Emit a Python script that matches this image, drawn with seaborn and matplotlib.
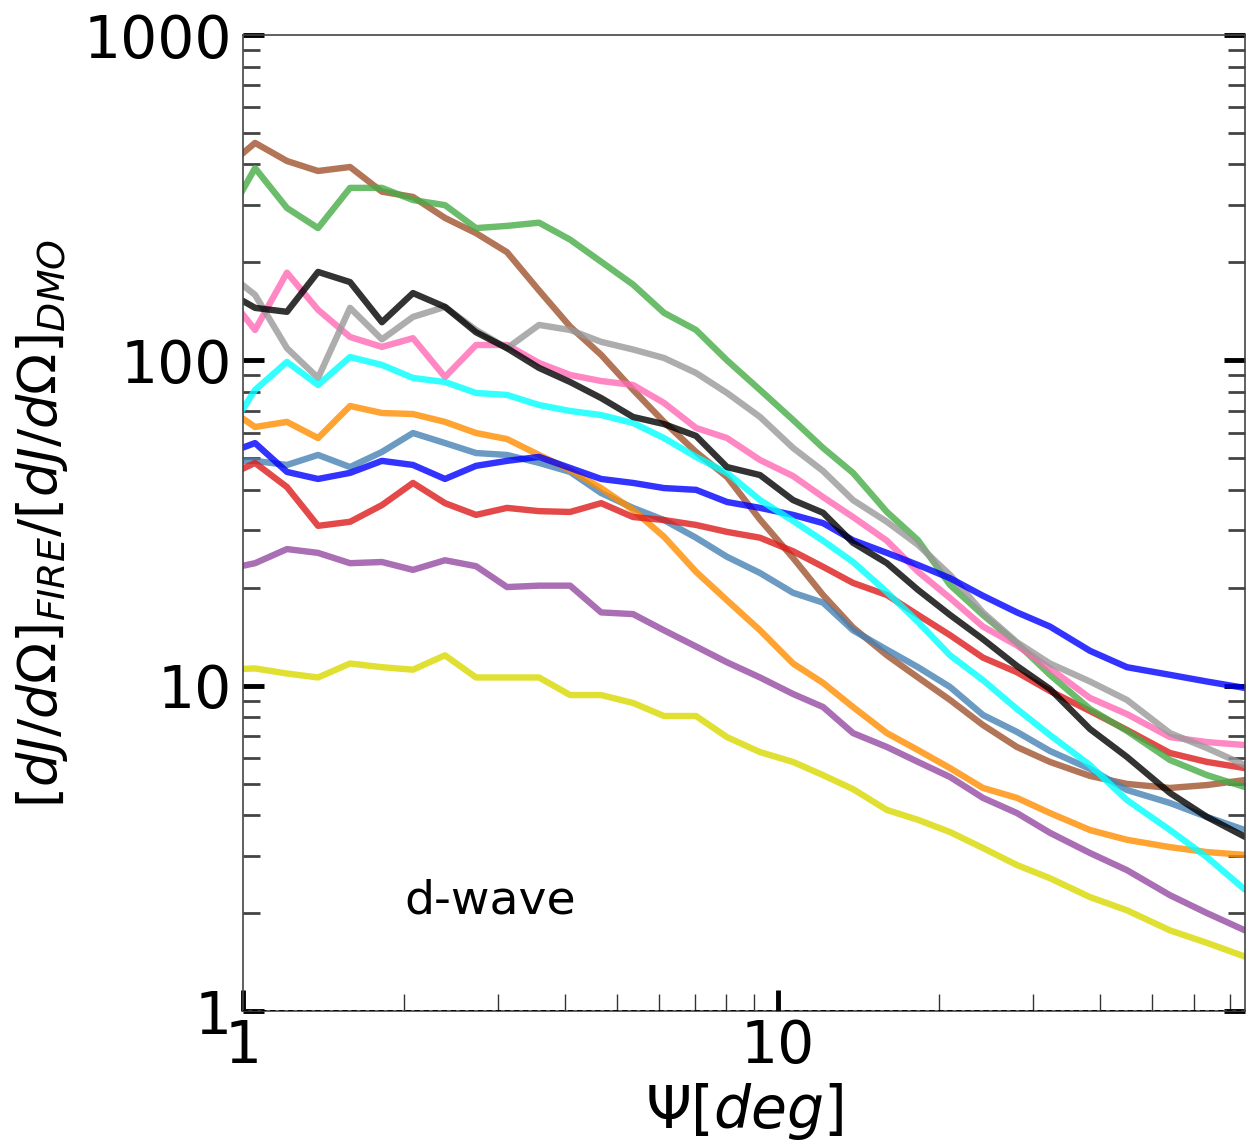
import numpy as np
import pandas as pd
import matplotlib
matplotlib.use("Agg")
import matplotlib.pyplot as plt
import seaborn as sns
from matplotlib.ticker import FixedLocator, NullFormatter

# Angular distance from the halo centre (deg)
psi = [0.918, 1.053, 1.208, 1.381, 1.585, 1.818, 2.078, 2.385, 2.726, 3.115,
       3.575, 4.087, 4.670, 5.358, 6.122, 7.026, 8.030, 9.256, 10.67, 12.14,
       13.81, 15.98, 18.27, 20.97, 24.16, 27.97, 32.24, 38.30, 44.91, 54.04,
       63.37, 74.64]

# Ratio of d-wave J-factor profiles, FIRE over DMO, one array per halo
run_sienna = [385, 466, 410, 382, 393, 330, 318, 274, 246, 215,
              164, 127, 104, 81.2, 64.7, 52.3, 43.8, 32.4, 24.7, 19.0,
              15.1, 12.4, 10.6, 9.04, 7.57, 6.48, 5.83, 5.28, 4.99, 4.85,
              4.95, 5.13]
run_green = [261, 390, 294, 255, 339, 339, 311, 300, 255, 259,
             265, 235, 201, 171, 140, 124, 100, 81.1, 65.6, 53.8,
             45.1, 34.2, 28.0, 20.4, 16.5, 13.5, 10.8, 8.48, 7.26, 5.91,
             5.31, 4.88]
run_black = [165, 145, 141, 187, 174, 131, 161, 146, 122, 109,
             94.8, 85.8, 76.6, 67.0, 63.7, 58.6, 47.0, 44.4, 37.2, 34.0,
             27.5, 23.8, 19.7, 16.5, 13.9, 11.5, 9.77, 7.36, 6.04, 4.68,
             3.95, 3.43]
run_gray = [190, 159, 109, 88.3, 145, 116, 136, 146, 124, 109,
            128.5, 124, 114, 108, 101.7, 91.5, 79.4, 67.0, 53.8, 45.7,
            37.2, 31.9, 27.1, 21.9, 16.8, 13.6, 11.7, 10.3, 9.04, 7.15,
            6.43, 5.70]
run_pink = [165, 124, 186, 143, 118, 110, 117, 88.9, 111.5, 111.5,
            98.2, 90.2, 86.4, 84.0, 74.0, 62.0, 57.7, 49.4, 44.1, 38.0,
            33.0, 27.9, 22.4, 18.6, 15.2, 13.3, 11.3, 9.17, 8.18, 6.95,
            6.71, 6.57]
run_cyan = [56.9, 81.1, 98.9, 84.0, 102.4, 96.8, 88.3, 85.8, 79.4, 78.3,
            72.9, 69.9, 67.9, 64.2, 57.7, 50.5, 45.1, 37.2, 32.1, 27.9,
            24.0, 19.4, 15.7, 12.4, 10.4, 8.48, 7.05, 5.70, 4.45, 3.60,
            2.97, 2.36]
run_orange = [72.9, 62.4, 64.7, 57.7, 72.4, 68.9, 68.4, 64.7, 59.8, 57.3,
              51.2, 46.0, 40.5, 34.7, 28.7, 22.4, 18.3, 14.8, 11.7, 10.2,
              8.60, 7.15, 6.34, 5.58, 4.85, 4.52, 4.06, 3.60, 3.36, 3.19,
              3.08, 3.02]
run_steel = [49.1, 49.1, 47.7, 51.2, 47.0, 52.3, 59.8, 55.7, 51.9, 51.2,
             48.4, 45.4, 39.1, 35.2, 32.3, 28.5, 24.9, 22.2, 19.3, 18.0,
             14.8, 12.9, 11.4, 9.91, 8.13, 7.21, 6.30, 5.55, 4.78, 4.36,
             3.95, 3.60]
run_blue = [51.2, 55.7, 45.4, 43.2, 45.1, 49.1, 47.7, 43.2, 47.4, 49.1,
            50.5, 46.7, 43.2, 42.0, 40.5, 40.0, 36.7, 35.2, 33.5, 31.6,
            28.0, 25.6, 23.5, 21.4, 18.9, 16.8, 15.2, 12.8, 11.4, 10.8,
            10.3, 9.84]
run_red = [43.5, 48.4, 40.8, 31.0, 31.9, 35.9, 42.0, 36.4, 33.5, 35.2,
           34.4, 34.2, 36.4, 33.0, 32.3, 31.2, 29.7, 28.5, 25.9, 23.2,
           20.7, 19.0, 16.5, 14.3, 12.2, 11.0, 9.63, 8.36, 7.31, 6.21,
           5.83, 5.58]
run_purple = [22.7, 23.8, 26.3, 25.6, 23.8, 24.0, 22.7, 24.3, 23.3, 20.1,
              20.3, 20.3, 16.8, 16.6, 14.8, 13.2, 11.8, 10.6, 9.43, 8.60,
              7.15, 6.48, 5.83, 5.24, 4.52, 4.06, 3.53, 3.06, 2.71, 2.27,
              2.00, 1.77]
run_yellow = [11.2, 11.3, 10.9, 10.6, 11.7, 11.4, 11.2, 12.4, 10.6, 10.6,
              10.6, 9.36, 9.36, 8.85, 8.07, 8.07, 6.95, 6.25, 5.83, 5.31,
              4.81, 4.15, 3.87, 3.55, 3.17, 2.81, 2.56, 2.24, 2.04, 1.77,
              1.62, 1.47]

y_ticks = [1, 10, 100, 1000]
y_tick_labels = ["1", "10", "100", "1000"]
x_ticks = [1, 10]
x_tick_labels = ["1", "10"]

runs = {
    "sienna": run_sienna, "steel": run_steel, "orange": run_orange,
    "purple": run_purple, "yellow": run_yellow, "red": run_red,
    "green": run_green, "pink": run_pink, "gray": run_gray,
    "blue": run_blue, "cyan": run_cyan, "black": run_black,
}
palette = {
    "sienna": "sienna", "green": "#46ab46", "black": "black",
    "gray": "#999999", "pink": "hotpink", "cyan": "cyan",
    "orange": "darkorange", "steel": "steelblue", "blue": "blue",
    "red": "#dd1c1c", "purple": "#954aa1", "yellow": "#d9d900",
}

df = pd.DataFrame({"psi": psi, **runs})
long = df.melt(id_vars="psi", var_name="run", value_name="ratio")

sns.set_style("ticks")
plt.rcParams["font.family"] = ["DejaVu Sans"]
plt.rcParams["mathtext.fontset"] = "dejavusans"
plt.rcParams["text.color"] = "black"
plt.rcParams["axes.labelcolor"] = "black"
plt.rcParams["xtick.color"] = "black"
plt.rcParams["ytick.color"] = "black"

fig = plt.figure(figsize=(12.49, 11.41), dpi=100)
ax = fig.add_axes([0.1946, 0.1139, 0.8022, 0.8554])
ax.set_xscale("log")
ax.set_yscale("log")

sns.lineplot(data=long, x="psi", y="ratio", hue="run", hue_order=list(runs),
             palette=palette, estimator=None, sort=False, lw=4.6, alpha=0.8,
             legend=False, ax=ax)

ax.axhline(1, color="k", ls="--", lw=1.3, dashes=(3, 2), zorder=5)

ax.set_xlim(1, psi[-1])
ax.set_ylim(1, 1000)

ax.xaxis.set_major_locator(FixedLocator(x_ticks))
ax.set_xticklabels(x_tick_labels)
ax.xaxis.set_minor_locator(FixedLocator([2, 3, 4, 5, 6, 7, 8, 9,
                                         20, 30, 40, 50, 60, 70]))
ax.xaxis.set_minor_formatter(NullFormatter())
ax.yaxis.set_major_locator(FixedLocator(y_ticks))
ax.set_yticklabels(y_tick_labels)
ax.yaxis.set_minor_locator(FixedLocator(
    [m * d for d in (1, 10, 100) for m in range(2, 10)]))
ax.yaxis.set_minor_formatter(NullFormatter())

ax.tick_params(which="both", direction="in", top=False, right=True,
               bottom=True, left=True, labelcolor="black")
ax.tick_params(which="major", length=15, width=3.5, color="k", labelsize=42)
ax.tick_params(axis="y", which="major", pad=8)
ax.tick_params(axis="x", which="major", pad=5)
ax.tick_params(axis="y", which="minor", length=12, width=2, color="#444444")
ax.tick_params(axis="x", which="minor", length=12, width=1, color="#333333")

for sp in ax.spines.values():
    sp.set_linewidth(1.2)
    sp.set_color("#444444")

ax.set_xlabel(r"$\Psi[deg]$", fontsize=42, labelpad=4, color="black")
ax.set_ylabel(r"$[dJ/d\Omega]_{FIRE}/[dJ/d\Omega]_{DMO}$", fontsize=39,
              labelpad=10, color="black")

ax.text(2.0, 2.0, "d-wave", fontsize=34, ha="left", va="baseline",
        color="black")

fig.savefig("out.png", dpi=100, facecolor="white")
